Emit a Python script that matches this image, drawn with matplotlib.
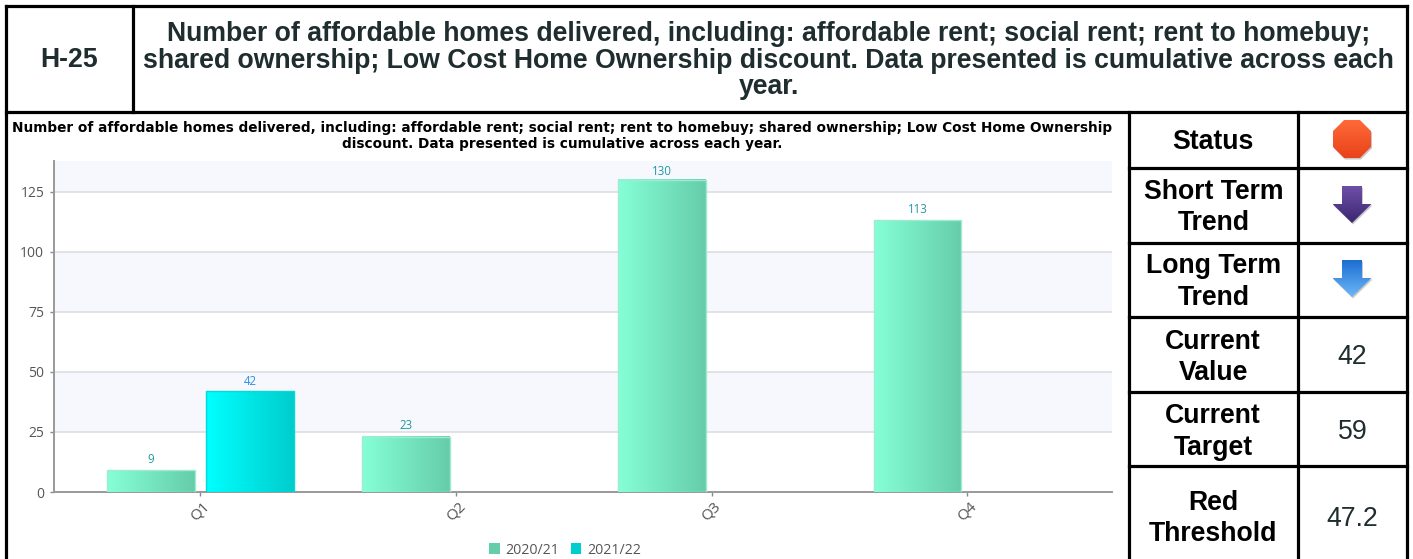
import numpy as np
import matplotlib
matplotlib.use("Agg")
import matplotlib.pyplot as plt
from matplotlib.colors import LinearSegmentedColormap
from matplotlib.patches import Patch, Polygon, RegularPolygon

W, H = 1413, 559

quarters = ["Q1", "Q2", "Q3", "Q4"]
values_2021 = [9, 23, 130, 113]
values_2122 = [42, None, None, None]
series_names = ["2020/21", "2021/22"]
y_ticks = [0, 25, 50, 75, 100, 125]

indicator_id = "H-25"
header_text = ("Number of affordable homes delivered, including: affordable rent; social rent; rent to homebuy;\n"
               "shared ownership; Low Cost Home Ownership discount. Data presented is cumulative across each\n"
               "year.")
chart_title = ("Number of affordable homes delivered, including: affordable rent; social rent; rent to homebuy; "
               "shared ownership; Low Cost Home Ownership\n"
               "discount. Data presented is cumulative across each year.")
row_labels = ["Status", "Short Term\nTrend", "Long Term\nTrend", "Current\nValue", "Current\nTarget", "Red\nThreshold"]
row_values = [None, None, None, "42", "59", "47.2"]

DARK = "#1f2d2f"


def hbar_gradient(ax, bars, c0, c1, edge):
    cmap = LinearSegmentedColormap.from_list("g", [c0, c1])
    for b in bars:
        x0, x1 = b.get_x(), b.get_x() + b.get_width()
        ax.imshow(np.linspace(0, 1, 64).reshape(1, -1), extent=(x0, x1, 0, b.get_height()),
                  cmap=cmap, aspect="auto", zorder=3)
        b.set_facecolor("none")
        b.set_edgecolor(edge)
        b.set_linewidth(1)
        b.set_zorder(4)


def icon(ax, patch, c_top, c_bot, shadow=True):
    xy = patch.get_path().vertices
    verts = patch.get_patch_transform().transform(xy)
    if shadow:
        ax.add_patch(Polygon(verts + [1, 1.5], closed=True, fc="#888888", ec="none", alpha=0.45, zorder=5))
    ax.add_patch(patch)
    patch.set_facecolor("none")
    patch.set_edgecolor("none")
    patch.set_zorder(6)
    cmap = LinearSegmentedColormap.from_list("i", [c_top, c_bot])
    im = ax.imshow(np.linspace(0, 1, 64).reshape(-1, 1), cmap=cmap, aspect="auto", zorder=6,
                   extent=(verts[:, 0].min(), verts[:, 0].max(), verts[:, 1].max(), verts[:, 1].min()))
    im.set_clip_path(patch)


def down_arrow(cx, top, bot, half_w, half_shaft, neck):
    pts = [(cx - half_shaft, top), (cx + half_shaft, top), (cx + half_shaft, neck), (cx + half_w, neck),
           (cx, bot), (cx - half_w, neck), (cx - half_shaft, neck)]
    return Polygon(pts, closed=True)


fig = plt.figure(figsize=(W / 100, H / 100), dpi=100)

# chart area, placed in pixels
plot_l, plot_r, plot_t, plot_b = 54, 1112, 161, 492
ax = fig.add_axes([plot_l / W, 1 - plot_b / H, (plot_r - plot_l) / W, (plot_b - plot_t) / H])
x = np.arange(len(quarters))
bw = 0.344
off = 0.194

bars1 = ax.bar(x - off, values_2021, bw)
hbar_gradient(ax, bars1, "#85FFD6", "#66CDAA", "#9FEBD2")
x2 = [i for i, v in zip(x, values_2122) if v is not None]
v2 = [v for v in values_2122 if v is not None]
bars2 = ax.bar(np.array(x2) + off, v2, bw)
hbar_gradient(ax, bars2, "#00FFFF", "#00CDCD", "#00DADA")

# labels stay inside the plot area, so the tallest one sits closer to its bar
for i, v in zip(x, values_2021):
    ax.text(i - off, min(v + 2, 130.8), str(v), ha="center", va="bottom", fontsize=8.3, color="#1f98a0",
            family="Open Sans", zorder=5)
for i, v in zip(x2, v2):
    ax.text(i + off, v + 1.4, str(v), ha="center", va="bottom", fontsize=8.3, color="#2a8fe8",
            family="Open Sans", zorder=5)

ax.set_xlim(-0.573, 3.567)
ax.set_ylim(0, 137.7)
ax.set_xticks(x)
ax.set_xticklabels(quarters, rotation=45, ha="center", fontsize=11, family="Open Sans", color="#555555")
ax.set_yticks(y_ticks)
ax.set_yticklabels([str(t) for t in y_ticks], fontsize=10, family="Open Sans", color="#555555")
ax.tick_params(axis="both", length=3, width=1, color="#888888", pad=4)
ax.tick_params(axis="x", pad=2)

# alternating bands and grid
edges = y_ticks + [137.7]
for lo, hi in zip(edges[:-1], edges[1:]):
    if y_ticks.index(lo) % 2 == 1:
        ax.axhspan(lo, hi, color="#F7F8FD", lw=0, zorder=0)
for t in y_ticks[1:]:
    ax.axhline(t, color="#DDDEE2", lw=1.2, zorder=1)
ax.spines[["top", "right"]].set_visible(False)
ax.spines[["left", "bottom"]].set_color("#999999")
ax.spines[["left", "bottom"]].set_linewidth(1.4)

# overlay in pixel coordinates for the table
ov = fig.add_axes([0, 0, 1, 1])
ov.patch.set_alpha(0)
ov.set_axis_off()

LW = 2.3
x_left, x_id, x_r1, x_r2, x_right = 5.5, 132.5, 1128.5, 1298, 1407
y_top, y_head = 6, 112
row_y = [112, 168, 243, 317, 392, 466, 559]
row_text_y = [142, 207.5, 282, 357.5, 432, 518.5]

ov.plot([x_left, x_right], [y_top, y_top], color="black", lw=LW, solid_capstyle="projecting")
ov.plot([x_left, x_right], [y_head, y_head], color="black", lw=LW)
ov.plot([x_left, x_left], [y_top, H], color="black", lw=LW)
ov.plot([x_right, x_right], [y_top, H], color="black", lw=LW)
ov.plot([x_id, x_id], [y_top, y_head], color="black", lw=LW)
ov.plot([x_r1, x_r1], [y_head, H], color="black", lw=LW)
ov.plot([x_r2, x_r2], [y_head, H], color="black", lw=LW)
for yy in row_y[1:-1]:
    ov.plot([x_r1, x_right], [yy, yy], color="black", lw=LW)

ov.text((x_left + x_id) / 2, 60, indicator_id, ha="center", va="center", fontsize=19.2, fontweight="bold",
        family="Liberation Sans", color=DARK)
ov.text((x_id + x_right) / 2 - 1, 60.5, header_text, ha="center", va="center", fontsize=19.2, fontweight="bold",
        family="Liberation Sans", color=DARK, linespacing=1.04)
ov.text(562.5, 136, chart_title, ha="center", va="center", fontsize=9.85, fontweight="bold",
        family="DejaVu Sans", color="black", linespacing=1.2)

for i, lab in enumerate(row_labels):
    ov.text((x_r1 + x_r2) / 2, row_text_y[i], lab, ha="center", va="center", fontsize=19.2, fontweight="bold",
            family="Liberation Sans", color="black", linespacing=1.26)
    if row_values[i] is not None:
        ov.text((x_r2 + x_right) / 2, row_text_y[i], row_values[i], ha="center", va="center", fontsize=19.2,
                family="Liberation Sans", color=DARK)

icon(ov, RegularPolygon((1352, 139), 8, radius=20.6, orientation=np.pi / 8), "#FF6B3A", "#E9431A")
icon(ov, down_arrow(1352, 186, 223, 19.5, 10, 204), "#6E4FA8", "#3B2770")
icon(ov, down_arrow(1352, 260, 297, 19.5, 10, 278), "#1C6FD2", "#6DB6F6")

handles = [Patch(fc="#66CDAA", ec="none"), Patch(fc="#00CDCD", ec="none")]
ov.legend(handles, series_names, ncol=2, loc="center", bbox_to_anchor=(565, 550),
          bbox_transform=ov.transData, frameon=False,
          prop={"family": "Open Sans", "size": 10.2}, labelcolor="#555555",
          handlelength=0.75, handleheight=0.75, handletextpad=0.4, columnspacing=0.8,
          borderpad=0, borderaxespad=0)

ov.set_xlim(0, W)
ov.set_ylim(H, 0)

fig.savefig("out.png", dpi=100)
